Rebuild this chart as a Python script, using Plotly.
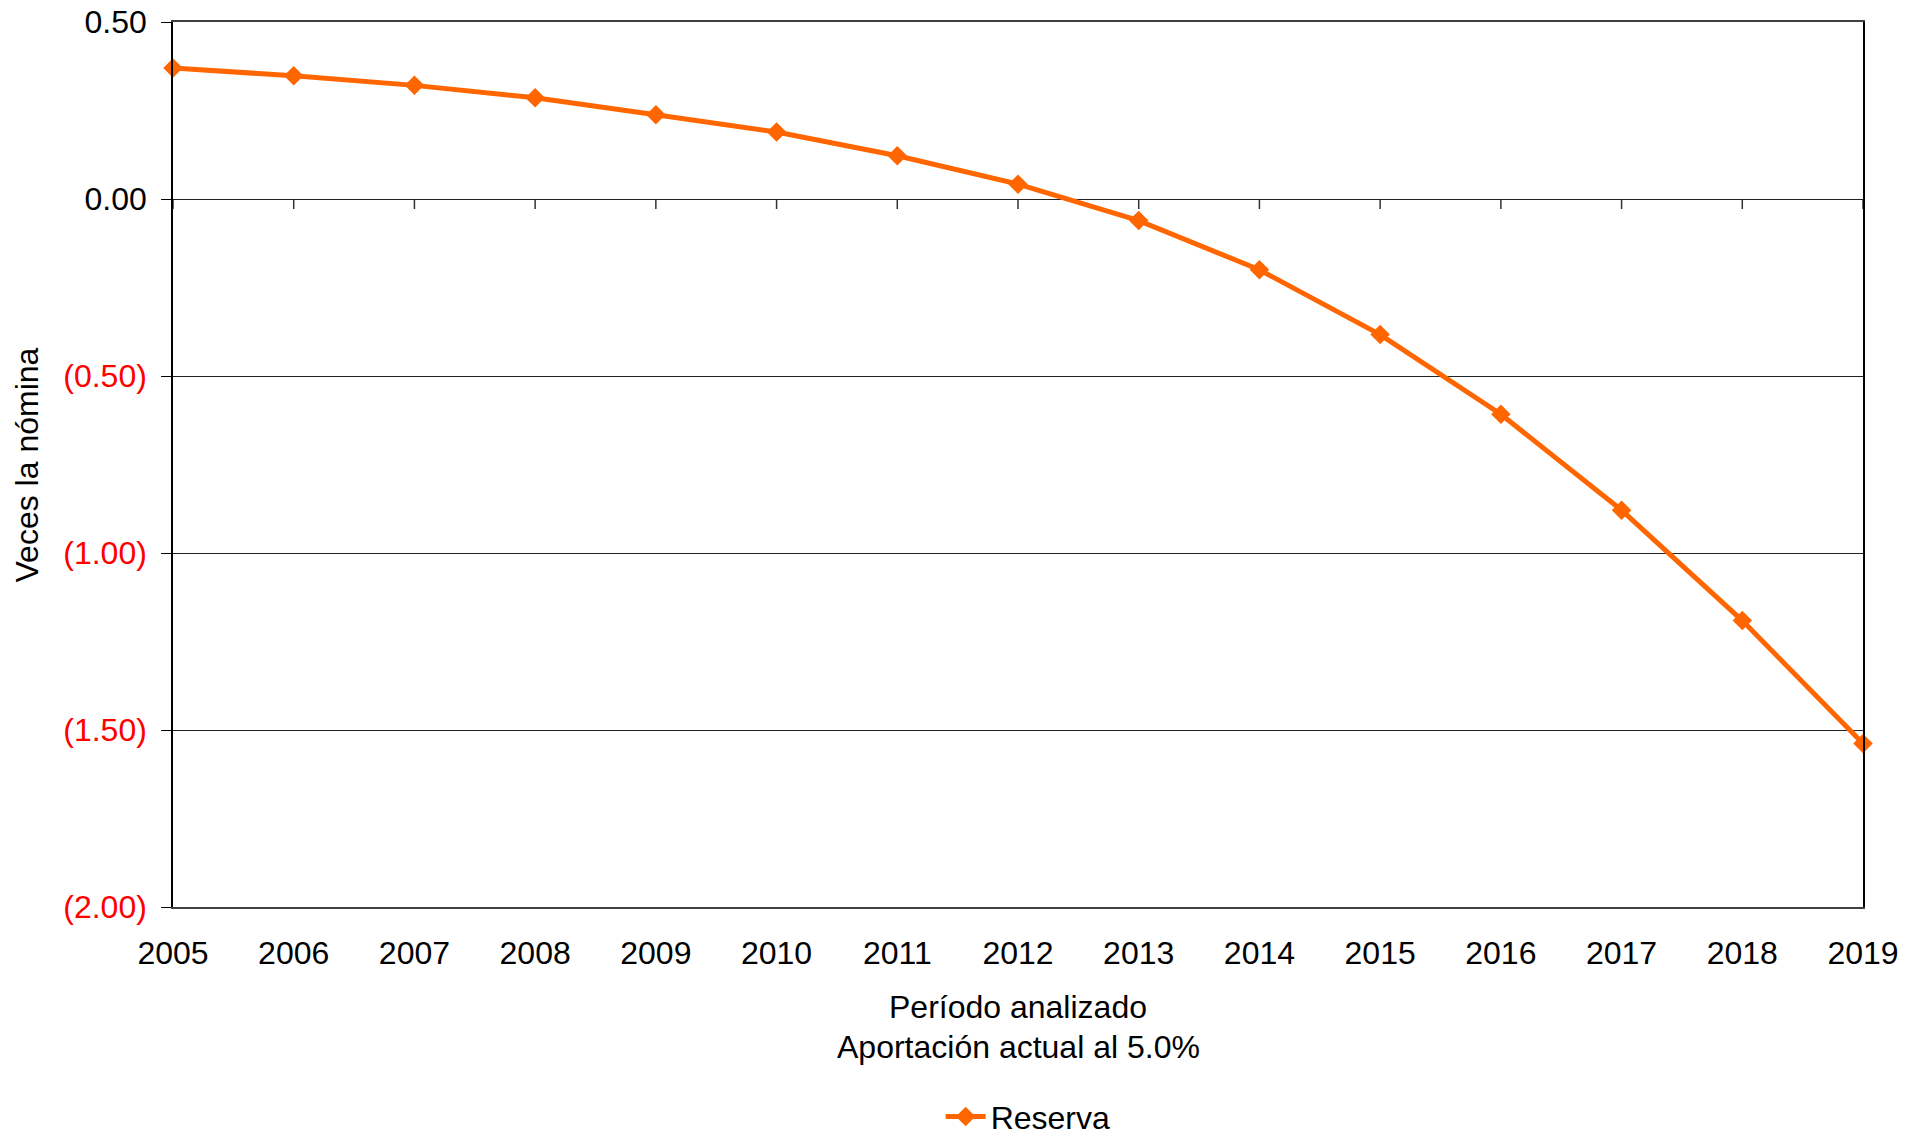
import plotly.graph_objects as go

years = list(range(2005, 2020))
reserva = [0.370, 0.348, 0.321, 0.286, 0.238, 0.189, 0.122, 0.042,
           -0.061, -0.200, -0.383, -0.608, -0.879, -1.191, -1.538]

y_tickvals = [0.5, 0.0, -0.5, -1.0, -1.5, -2.0]
y_ticktext = ["0.50", "0.00",
              '<span style="color:#FF0000">(0.50)</span>',
              '<span style="color:#FF0000">(1.00)</span>',
              '<span style="color:#FF0000">(1.50)</span>',
              '<span style="color:#FF0000">(2.00)</span>']

FONT = "Liberation Sans, Arial, sans-serif"
ORANGE = "#FF6600"
FS = 32

fig = go.Figure()
fig.add_trace(go.Scatter(
    x=years, y=reserva, mode="lines+markers", name="Reserva",
    line=dict(color=ORANGE, width=5),
    marker=dict(symbol="diamond", size=15, color=ORANGE),
    cliponaxis=False,
))

shapes = []
for yr in years:
    shapes.append(dict(type="line", xref="x", yref="y", ysizemode="pixel",
                       yanchor=0, x0=yr, x1=yr, y0=0, y1=-10,
                       line=dict(color="#333333", width=1.5), layer="below"))

fig.update_layout(
    width=1925, height=1137,
    margin=dict(l=173, r=62, t=22, b=230, autoexpand=False),
    paper_bgcolor="white", plot_bgcolor="white",
    font=dict(family=FONT, size=FS, color="black"),
    showlegend=True,
    legend=dict(orientation="h", x=0.506, xanchor="center", y=-0.237, yanchor="middle",
                font=dict(size=FS), itemwidth=40),
    shapes=shapes,
    annotations=[
        dict(text="Período analizado", xref="paper", yref="paper", x=0.5, y=-0.113,
             showarrow=False, font=dict(size=FS), xanchor="center", yanchor="middle"),
        dict(text="Aportación actual al 5.0%", xref="paper", yref="paper", x=0.5, y=-0.158,
             showarrow=False, font=dict(size=FS), xanchor="center", yanchor="middle"),
        dict(text="Veces la nómina", xref="paper", yref="paper", x=-0.0864, y=0.5,
             showarrow=False, font=dict(size=FS), textangle=-90,
             xanchor="center", yanchor="middle"),
    ],
)

fig.update_xaxes(
    range=[2005, 2019], tickmode="linear", tick0=2005, dtick=1,
    showgrid=False, zeroline=False, automargin=False,
    showline=True, linecolor="#404040", linewidth=2, mirror=True,
    ticks="", ticklabelstandoff=17,
    tickfont=dict(size=FS, family=FONT, color="black"),
)
fig.update_yaxes(
    range=[-2.0, 0.5], tickvals=y_tickvals, ticktext=y_ticktext,
    showgrid=True, gridcolor="#222222", gridwidth=1,
    zeroline=False, automargin=False,
    showline=True, linecolor="black", linewidth=1.5, mirror=True,
    ticks="outside", ticklen=10, tickcolor="black", tickwidth=1,
    ticklabelstandoff=8,
    tickfont=dict(size=FS, family=FONT, color="black"),
)

fig.write_html(
    "out.html",
    config={"displayModeBar": False},
    post_script="document.body.style.margin='0';document.body.style.overflow='hidden';",
)
